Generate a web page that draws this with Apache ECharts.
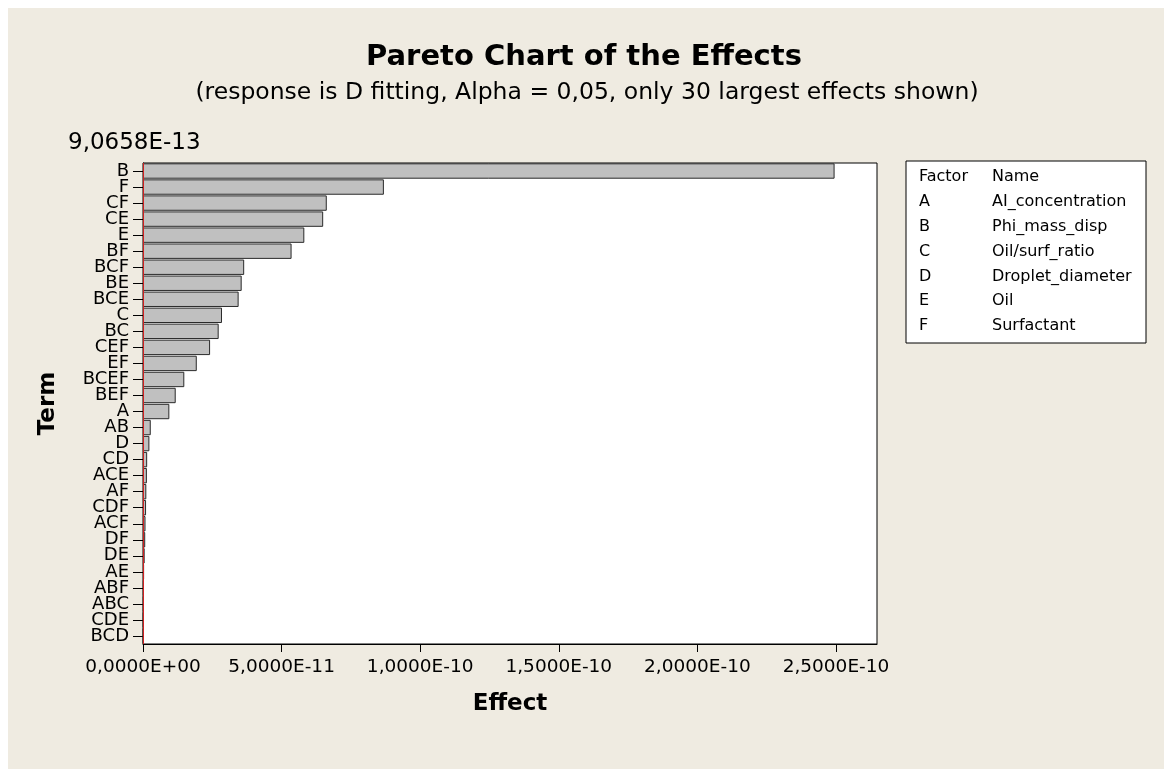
<!DOCTYPE html>
<html>
<head>
<meta charset="utf-8">
<script src="https://cdn.jsdelivr.net/npm/echarts@6/dist/echarts.min.js"></script>
<style>
html,body{margin:0;padding:0;background:#ffffff;}
#chart{width:1164px;height:769px;}
</style>
</head>
<body>
<div id="chart"></div>
<script>
// ---- data ----
var terms = ['B','F','CF','CE','E','BF','BCF','BE','BCE','C','BC','CEF','EF','BCEF','BEF','A','AB','D','CD','ACE','AF','CDF','ACF','DF','DE','AE','ABF','ABC','CDE','BCD'];
var effects = [2.495e-10,8.69e-11,6.63e-11,6.50e-11,5.82e-11,5.36e-11,3.65e-11,3.56e-11,3.45e-11,2.85e-11,2.73e-11,2.42e-11,1.94e-11,1.49e-11,1.18e-11,9.5e-12,2.8e-12,2.3e-12,1.5e-12,1.4e-12,1.2e-12,1.1e-12,9e-13,8e-13,6e-13,4e-13,3e-13,2.5e-13,2e-13,1.5e-13];
var xTicks = [0,5e-11,1e-10,1.5e-10,2e-10,2.5e-10];
var refValue = 9.0658e-13;
var refLabel = '9,0658E-13';
var factorCodes = ['A','B','C','D','E','F'];
var factorNames = ['AI_concentration','Phi_mass_disp','Oil/surf_ratio','Droplet_diameter','Oil','Surfactant'];

var FONT = 'DejaVu Sans';

function fmtE(v){
  if (v === 0) return '0,0000E+00';
  var s = v.toExponential(4);
  var parts = s.split('e');
  var mant = parts[0].replace('.', ',');
  var exp = parseInt(parts[1], 10);
  var sign = exp < 0 ? '-' : '+';
  var a = Math.abs(exp);
  return mant + 'E' + sign + (a < 10 ? '0' + a : '' + a);
}

var chart = echarts.init(document.getElementById('chart'), null, {renderer:'canvas'});

var legendChildren = [
  {type:'rect', shape:{x:0,y:0,width:240,height:182}, style:{fill:'#ffffff', stroke:'#000000', lineWidth:1}},
  {type:'text', x:13, y:16, style:{text:'Factor', font:'16px ' + FONT, fill:'#000', verticalAlign:'middle'}},
  {type:'text', x:86, y:16, style:{text:'Name', font:'16px ' + FONT, fill:'#000', verticalAlign:'middle'}}
];
for (var i = 0; i < factorCodes.length; i++) {
  legendChildren.push({type:'text', x:13, y:41 + i*24.8, style:{text:factorCodes[i], font:'16px ' + FONT, fill:'#000', verticalAlign:'middle'}});
  legendChildren.push({type:'text', x:86, y:41 + i*24.8, style:{text:factorNames[i], font:'16px ' + FONT, fill:'#000', verticalAlign:'middle'}});
}

var option = {
  backgroundColor: '#ffffff',
  animation: false,
  graphic: [
    {type:'rect', z:-10, shape:{x:8,y:8,width:1156,height:761}, style:{fill:'#EFEBE1'}},
    {type:'text', x:584, y:57, style:{text:'Pareto Chart of the Effects', font:'bold 29px ' + FONT, fill:'#000', align:'center', verticalAlign:'middle'}},
    {type:'text', x:587, y:93, style:{text:'(response is D fitting, Alpha = 0,05, only 30 largest effects shown)', font:'23.5px ' + FONT, fill:'#000', align:'center', verticalAlign:'middle'}},
    {type:'text', x:68, y:143, style:{text:refLabel, font:'23px ' + FONT, fill:'#000', verticalAlign:'middle'}},
    {type:'group', x:906, y:161, children: legendChildren}
  ],
  grid: {left:143, top:163, width:734, height:481, show:true, backgroundColor:'#ffffff', borderColor:'#000000', borderWidth:1},
  xAxis: {
    type:'value', min:0, max:2.648e-10,
    name:'Effect', nameLocation:'middle', nameGap:49,
    nameTextStyle:{fontFamily:FONT, fontWeight:'bold', fontSize:23, color:'#000'},
    axisLine:{show:true, lineStyle:{color:'#000', width:1}},
    axisTick:{show:true, length:8, lineStyle:{color:'#000'}, customValues: xTicks},
    axisLabel:{fontFamily:FONT, fontSize:18.5, color:'#000', margin:14, customValues: xTicks, formatter: function(v){ return fmtE(v); }},
    splitLine:{show:false}
  },
  yAxis: {
    type:'category', data:terms, inverse:true,
    name:'Term', nameLocation:'middle', nameGap:83, nameRotate:90,
    nameTextStyle:{fontFamily:FONT, fontWeight:'bold', fontSize:23, color:'#000'},
    axisLine:{show:true, lineStyle:{color:'#000', width:1}},
    axisTick:{show:true, length:10, alignWithLabel:true, lineStyle:{color:'#000'}},
    axisLabel:{fontFamily:FONT, fontSize:18, color:'#000', margin:14, interval:0},
    splitLine:{show:false}
  },
  series: [{
    type:'bar', data:effects, barCategoryGap:'4%',
    itemStyle:{color:'#C0C0C0', borderColor:'#2a2a2a', borderWidth:1},
    markLine:{
      silent:true, symbol:'none', label:{show:false},
      lineStyle:{color:'#D02020', type:'solid', width:1},
      data:[{xAxis: refValue}]
    }
  }]
};
chart.setOption(option);
</script>
</body>
</html>
